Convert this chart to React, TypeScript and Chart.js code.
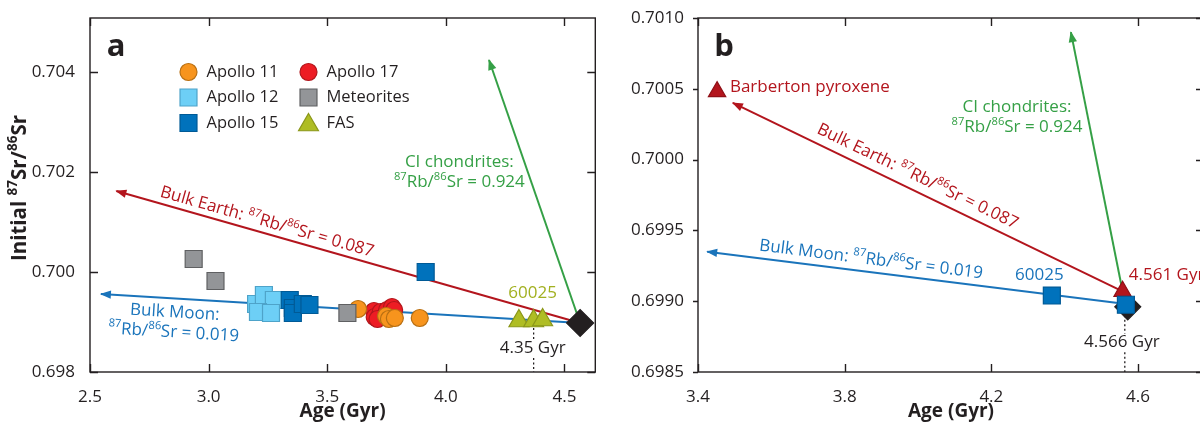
import { useEffect, useRef } from 'react';
import { Chart, registerables } from 'chart.js';

Chart.register(...registerables);

const FONT = "'Open Sans', sans-serif";
const INK = '#231f20';
const RED = '#b3151d';
const BLUE = '#1a74bb';
const GREEN = '#35a046';
const OLIVE = '#a2b020';

// ---------------- Panel a data ----------------
const ageTicksA = [2.5, 3.0, 3.5, 4.0, 4.5];
const ageLabelsA = ['2.5', '3.0', '3.5', '4.0', '4.5'];
const srTicksA = [0.698, 0.7, 0.702, 0.704];
const srLabelsA = ['0.698', '0.700', '0.702', '0.704'];

const apollo11 = [
  { x: 3.63, y: 0.69926 },
  { x: 3.748, y: 0.69912 },
  { x: 3.76, y: 0.69906 },
  { x: 3.785, y: 0.69908 },
  { x: 3.89, y: 0.69908 },
];
const apollo17 = [
  { x: 3.697, y: 0.69922 },
  { x: 3.7, y: 0.6991 },
  { x: 3.725, y: 0.6992 },
  { x: 3.752, y: 0.69924 },
  { x: 3.773, y: 0.6993 },
  { x: 3.782, y: 0.69924 },
  { x: 3.712, y: 0.69906 },
];
const apollo12 = [
  { x: 3.2, y: 0.69936 },
  { x: 3.233, y: 0.69954 },
  { x: 3.275, y: 0.69944 },
  { x: 3.208, y: 0.6992 },
  { x: 3.263, y: 0.69918 },
];
const apollo15 = [
  { x: 3.342, y: 0.69944 },
  { x: 3.355, y: 0.69928 },
  { x: 3.355, y: 0.69918 },
  { x: 3.397, y: 0.69936 },
  { x: 3.425, y: 0.69934 },
  { x: 3.915, y: 0.7 },
];
const meteorites = [
  { x: 2.937, y: 0.70026 },
  { x: 3.029, y: 0.69982 },
  { x: 3.585, y: 0.69918 },
];
const fas = [
  { x: 4.308, y: 0.69902 },
  { x: 4.37, y: 0.69902 },
  { x: 4.408, y: 0.69904 },
];
const solarA = [{ x: 4.566, y: 0.69898 }];
const bulkMoonA = [{ x: 4.566, y: 0.69898 }, { x: 2.546, y: 0.69956 }];
const bulkEarthA = [{ x: 4.566, y: 0.69898 }, { x: 2.611, y: 0.70162 }];
const chondritesA = [{ x: 4.566, y: 0.69898 }, { x: 4.182, y: 0.70424 }];
const dotTopA = [{ x: 4.37, y: 0.69888 }, { x: 4.37, y: 0.69865 }];
const dotBottomA = [{ x: 4.37, y: 0.69828 }, { x: 4.37, y: 0.698 }];

// ---------------- Panel b data ----------------
const ageTicksB = [3.4, 3.8, 4.2, 4.6];
const ageLabelsB = ['3.4', '3.8', '4.2', '4.6'];
const srTicksB = [0.6985, 0.699, 0.6995, 0.7, 0.7005, 0.701];
const srLabelsB = ['0.6985', '0.6990', '0.6995', '0.7000', '0.7005', '0.7010'];

const barberton = [{ x: 3.452, y: 0.70048 }];
const earthStartB = [{ x: 4.558, y: 0.69907 }];
const moonB = [{ x: 4.365, y: 0.69904 }, { x: 4.567, y: 0.698975 }];
const solarB = [{ x: 4.572, y: 0.69896 }];
const bulkMoonB = [{ x: 4.567, y: 0.69898 }, { x: 3.425, y: 0.69935 }];
const bulkEarthB = [{ x: 4.558, y: 0.69907 }, { x: 3.495, y: 0.7004 }];
const chondritesB = [{ x: 4.558, y: 0.69907 }, { x: 4.417, y: 0.7009 }];
const dotTopB = [{ x: 4.564, y: 0.6989 }, { x: 4.564, y: 0.69877 }];
const dotBottomB = [{ x: 4.564, y: 0.69864 }, { x: 4.564, y: 0.6985 }];

// ---------------- text helpers ----------------
type Seg = [string, boolean?];
type Note = {
  lines: Seg[][];
  x: number;
  y: number;
  color: string;
  align?: 'left' | 'center';
  follow?: { x: number; y: number }[];
};

const ratio = (v: string): Seg[] => [['87', true], ['Rb/'], ['86', true], ['Sr = ' + v]];

const notesA: Note[] = [
  { lines: [[['Bulk Earth: '], ...ratio('0.087')]], x: 3.246, y: 0.701, color: RED, follow: bulkEarthA },
  { lines: [[['Bulk Moon:']], ratio('0.019')], x: 2.855, y: 0.69899, color: BLUE, follow: bulkMoonA },
  { lines: [[['CI chondrites:']], ratio('0.924')], x: 4.057, y: 0.70199, color: GREEN },
  { lines: [[['60025']]], x: 4.366, y: 0.69958, color: OLIVE },
  { lines: [[['4.35 Gyr']]], x: 4.366, y: 0.69848, color: INK },
];
const notesB: Note[] = [
  { lines: [[['Barberton pyroxene']]], x: 3.487, y: 0.700513, color: RED, align: 'left' },
  { lines: [[['Bulk Earth: '], ...ratio('0.087')]], x: 3.999, y: 0.699881, color: RED, follow: bulkEarthB },
  { lines: [[['Bulk Moon: '], ...ratio('0.019')]], x: 3.872, y: 0.699294, color: BLUE, follow: bulkMoonB },
  { lines: [[['CI chondrites:']], ratio('0.924')], x: 4.27, y: 0.700301, color: GREEN },
  { lines: [[['60025']]], x: 4.331, y: 0.699185, color: BLUE },
  { lines: [[['4.561 Gyr']]], x: 4.575, y: 0.699185, color: RED, align: 'left' },
  { lines: [[['4.566 Gyr']]], x: 4.556, y: 0.698712, color: INK },
];

const segFont = (size: number, weight: string, sup: boolean) =>
  `${weight} ${sup ? (size * 0.66).toFixed(1) : size}px ${FONT}`;

function segWidth(ctx: CanvasRenderingContext2D, segs: Seg[], size: number, weight: string) {
  let w = 0;
  for (const [t, s] of segs) {
    ctx.font = segFont(size, weight, !!s);
    w += ctx.measureText(t).width;
  }
  return w;
}

function drawRich(
  ctx: CanvasRenderingContext2D,
  lines: Seg[][],
  cx: number,
  cy: number,
  size: number,
  weight: string,
  color: string,
  align: 'left' | 'center',
  angle: number,
  lh: number
) {
  ctx.save();
  ctx.translate(cx, cy);
  ctx.rotate(angle);
  ctx.fillStyle = color;
  ctx.textBaseline = 'middle';
  ctx.textAlign = 'left';
  const n = lines.length;
  lines.forEach((segs, i) => {
    const w = segWidth(ctx, segs, size, weight);
    let x = align === 'center' ? -w / 2 : 0;
    const y = (i - (n - 1) / 2) * lh;
    for (const [t, s] of segs) {
      ctx.font = segFont(size, weight, !!s);
      ctx.fillText(t, x, s ? y - size * 0.32 : y);
      x += ctx.measureText(t).width;
    }
  });
  ctx.restore();
}

function drawMarker(
  ctx: CanvasRenderingContext2D,
  style: string,
  x: number,
  y: number,
  r: number,
  fill: string,
  stroke: string
) {
  ctx.beginPath();
  if (style === 'circle') ctx.arc(x, y, r, 0, Math.PI * 2);
  else if (style === 'rect') {
    const s = r * Math.SQRT1_2;
    ctx.rect(x - s, y - s, 2 * s, 2 * s);
  } else if (style === 'triangle') {
    for (let k = 0; k < 3; k++) {
      const a = (k * 2 * Math.PI) / 3;
      const px = x + Math.sin(a) * r;
      const py = y - Math.cos(a) * r;
      if (k === 0) ctx.moveTo(px, py);
      else ctx.lineTo(px, py);
    }
    ctx.closePath();
  }
  ctx.fillStyle = fill;
  ctx.fill();
  ctx.strokeStyle = stroke;
  ctx.lineWidth = 1.2;
  ctx.stroke();
}

// ---------------- dataset helpers ----------------
const pts = (label: string, data: any[], style: string, r: number, fill: string, stroke: string, order: number) => ({
  label,
  data,
  pointStyle: style,
  pointRadius: r,
  pointBackgroundColor: fill,
  pointBorderColor: stroke,
  pointBorderWidth: 1.2,
  showLine: false,
  order,
});
const arrowLine = (data: any[], color: string) => ({
  label: '',
  data,
  showLine: true,
  borderColor: color,
  borderWidth: 2,
  pointRadius: 0,
  arrow: true,
  order: 10,
});
const dotted = (data: any[]) => ({
  label: '',
  data,
  showLine: true,
  borderColor: INK,
  borderWidth: 1.3,
  borderDash: [2, 2.5],
  pointRadius: 0,
  order: 9,
});

// ---------------- plugins ----------------
const frameTicks = (leftOut: boolean) => ({
  id: 'frameTicks',
  beforeDatasetsDraw(chart: any) {
    const { ctx, chartArea: a, scales } = chart;
    ctx.save();
    ctx.strokeStyle = INK;
    ctx.lineWidth = 1.4;
    ctx.strokeRect(a.left, a.top, a.right - a.left, a.bottom - a.top);
    const L = 8;
    ctx.beginPath();
    for (const t of scales.x.ticks) {
      const px = Math.round(scales.x.getPixelForValue(t.value)) + 0.5;
      ctx.moveTo(px, a.bottom);
      ctx.lineTo(px, a.bottom - L);
      ctx.moveTo(px, a.top);
      ctx.lineTo(px, a.top + L);
    }
    for (const t of scales.y.ticks) {
      const py = Math.round(scales.y.getPixelForValue(t.value)) + 0.5;
      ctx.moveTo(a.left, py);
      ctx.lineTo(leftOut ? a.left - 5 : a.left + L, py);
      ctx.moveTo(a.right, py);
      ctx.lineTo(a.right - L, py);
    }
    ctx.stroke();
    ctx.restore();
  },
});

const arrowHeads = {
  id: 'arrowHeads',
  afterDatasetsDraw(chart: any) {
    const { ctx, scales } = chart;
    chart.data.datasets.forEach((ds: any) => {
      if (!ds.arrow) return;
      const p0 = ds.data[ds.data.length - 2];
      const p1 = ds.data[ds.data.length - 1];
      const x0 = scales.x.getPixelForValue(p0.x);
      const y0 = scales.y.getPixelForValue(p0.y);
      const x1 = scales.x.getPixelForValue(p1.x);
      const y1 = scales.y.getPixelForValue(p1.y);
      const ang = Math.atan2(y1 - y0, x1 - x0);
      ctx.save();
      ctx.translate(x1, y1);
      ctx.rotate(ang);
      ctx.beginPath();
      ctx.moveTo(1, 0);
      ctx.lineTo(-10, -4.2);
      ctx.lineTo(-10, 4.2);
      ctx.closePath();
      ctx.fillStyle = ds.borderColor;
      ctx.fill();
      ctx.restore();
    });
  },
};

const annotations = (notes: Note[], letter: string, yTitle: boolean, legend: string[][] | null) => ({
  id: 'annotations',
  afterDraw(chart: any) {
    const { ctx, chartArea: a, scales } = chart;
    const sx = scales.x;
    const sy = scales.y;
    for (const n of notes) {
      let angle = 0;
      if (n.follow) {
        const s = n.follow[0];
        const t = n.follow[n.follow.length - 1];
        angle = Math.atan2(
          sy.getPixelForValue(s.y) - sy.getPixelForValue(t.y),
          sx.getPixelForValue(s.x) - sx.getPixelForValue(t.x)
        );
      }
      drawRich(
        ctx,
        n.lines,
        sx.getPixelForValue(n.x),
        sy.getPixelForValue(n.y),
        17,
        'normal',
        n.color,
        n.align || 'center',
        angle,
        20
      );
    }
    // panel letter
    ctx.save();
    ctx.fillStyle = INK;
    ctx.font = `bold 31px ${FONT}`;
    ctx.textAlign = 'center';
    ctx.textBaseline = 'alphabetic';
    ctx.fillText(letter, a.left + 26, a.top + 38);
    ctx.restore();
    // x title
    drawRich(ctx, [[['Age (Gyr)']]], (a.left + a.right) / 2, a.bottom + 40, 19, 'bold', INK, 'center', 0, 20);
    if (yTitle) {
      drawRich(
        ctx,
        [[['Initial '], ['87', true], ['Sr/'], ['86', true], ['Sr']]],
        a.left - 70,
        (a.top + a.bottom) / 2 - 7,
        20.5,
        'bold',
        INK,
        'center',
        -Math.PI / 2,
        20
      );
    }
    if (legend) {
      const cols = [a.left + 98.5, a.left + 218.5];
      const rows = [a.top + 54, a.top + 79.5, a.top + 105];
      legend.forEach((row, ri) => {
        row.forEach((label, ci) => {
          const ds = chart.data.datasets.find((d: any) => d.label === label);
          if (!ds) return;
          const mx = cols[ci];
          const my = rows[ri];
          drawMarker(ctx, ds.pointStyle, mx, my + (ds.pointStyle === 'triangle' ? 2 : 0), ds.pointRadius, ds.pointBackgroundColor, ds.pointBorderColor);
          ctx.save();
          ctx.fillStyle = INK;
          ctx.font = `16.5px ${FONT}`;
          ctx.textBaseline = 'middle';
          ctx.textAlign = 'left';
          ctx.fillText(label, mx + 18, my);
          ctx.restore();
        });
      });
    }
  },
});

type PanelCfg = {
  datasets: any[];
  xMin: number;
  xMax: number;
  yMin: number;
  yMax: number;
  xTicks: number[];
  xLabels: string[];
  yTicks: number[];
  yLabels: string[];
  yWidth: number;
  yPad: number;
  padRight: number;
  plugins: any[];
};

function buildChart(canvas: HTMLCanvasElement, cfg: PanelCfg) {
  return new Chart(canvas, {
    type: 'scatter',
    data: { datasets: cfg.datasets },
    options: {
      responsive: false,
      animation: false,
      events: [],
      devicePixelRatio: 1,
      layout: { padding: { left: 0, right: cfg.padRight, top: 18, bottom: 0 } },
      plugins: { legend: { display: false }, tooltip: { enabled: false } },
      scales: {
        x: {
          type: 'linear',
          min: cfg.xMin,
          max: cfg.xMax,
          grid: { display: false },
          border: { display: false },
          afterBuildTicks: (s: any) => {
            s.ticks = cfg.xTicks.map((v) => ({ value: v }));
          },
          afterFit: (s: any) => {
            s.height = 51;
          },
          ticks: {
            autoSkip: false,
            maxRotation: 0,
            padding: 7,
            color: INK,
            font: { size: 17, family: FONT },
            callback: (_v: any, i: number) => cfg.xLabels[i],
          },
        },
        y: {
          type: 'linear',
          min: cfg.yMin,
          max: cfg.yMax,
          grid: { display: false },
          border: { display: false },
          afterBuildTicks: (s: any) => {
            s.ticks = cfg.yTicks.map((v) => ({ value: v }));
          },
          afterFit: (s: any) => {
            s.width = cfg.yWidth;
          },
          ticks: {
            autoSkip: false,
            padding: cfg.yPad,
            color: INK,
            font: { size: 17, family: FONT },
            callback: (_v: any, i: number) => cfg.yLabels[i],
          },
        },
      },
    } as any,
    plugins: cfg.plugins,
  });
}

const legendRows = [
  ['Apollo 11', 'Apollo 17'],
  ['Apollo 12', 'Meteorites'],
  ['Apollo 15', 'FAS'],
];

export default function App() {
  const refA = useRef<HTMLCanvasElement | null>(null);
  const refB = useRef<HTMLCanvasElement | null>(null);

  useEffect(() => {
    const chartA = buildChart(refA.current as HTMLCanvasElement, {
      datasets: [
        pts('Solar System', solarA, 'rectRot', 13.5, INK, INK, 0),
        pts('Meteorites', meteorites, 'rect', 12, '#939598', '#5f6062', 1),
        pts('FAS', fas, 'triangle', 11.5, '#afbd24', '#8b9719', 2),
        pts('Apollo 11', apollo11, 'circle', 8.5, '#f7941d', '#b86f12', 3),
        pts('Apollo 17', apollo17, 'circle', 8.5, '#ed1c24', '#b1161c', 4),
        pts('Apollo 15', apollo15, 'rect', 12, '#0072bc', '#005a96', 5),
        pts('Apollo 12', apollo12, 'rect', 12, '#6dcff6', '#4ea3c9', 6),
        dotted(dotTopA),
        dotted(dotBottomA),
        arrowLine(bulkMoonA, BLUE),
        arrowLine(bulkEarthA, RED),
        arrowLine(chondritesA, GREEN),
      ],
      xMin: 2.5,
      xMax: 4.63,
      yMin: 0.698,
      yMax: 0.70508,
      xTicks: ageTicksA,
      xLabels: ageLabelsA,
      yTicks: srTicksA,
      yLabels: srLabelsA,
      yWidth: 90,
      yPad: 7,
      padRight: 10,
      plugins: [frameTicks(false), arrowHeads, annotations(notesA, 'a', true, legendRows)],
    });
    const chartB = buildChart(refB.current as HTMLCanvasElement, {
      datasets: [
        pts('Apollo 15 samples', moonB, 'rect', 12, '#0072bc', '#005a96', 0),
        pts('Bulk Earth', earthStartB, 'triangle', 10, RED, '#8f0f16', 1),
        pts('Barberton pyroxene', barberton, 'triangle', 10, RED, '#8f0f16', 1),
        pts('Solar System', solarB, 'rectRot', 13, INK, INK, 2),
        dotted(dotTopB),
        dotted(dotBottomB),
        arrowLine(bulkMoonB, BLUE),
        arrowLine(bulkEarthB, RED),
        arrowLine(chondritesB, GREEN),
      ],
      xMin: 3.4,
      xMax: 4.78,
      yMin: 0.6985,
      yMax: 0.701,
      xTicks: ageTicksB,
      xLabels: ageLabelsB,
      yTicks: srTicksB,
      yLabels: srLabelsB,
      yWidth: 83,
      yPad: 6,
      padRight: 21,
      plugins: [frameTicks(true), arrowHeads, annotations(notesB, 'b', false, null)],
    });
    return () => {
      chartA.destroy();
      chartB.destroy();
    };
  }, []);

  return (
    <div
      style={{
        position: 'fixed',
        left: 0,
        top: 0,
        width: 1200,
        height: 423,
        overflow: 'hidden',
        background: '#ffffff',
      }}
    >
      <canvas
        ref={refA}
        width={610}
        height={423}
        style={{ position: 'absolute', left: 0, top: 0, width: 610, height: 423 }}
      />
      <canvas
        ref={refB}
        width={610}
        height={423}
        style={{ position: 'absolute', left: 615, top: 0, width: 610, height: 423 }}
      />
    </div>
  );
}
